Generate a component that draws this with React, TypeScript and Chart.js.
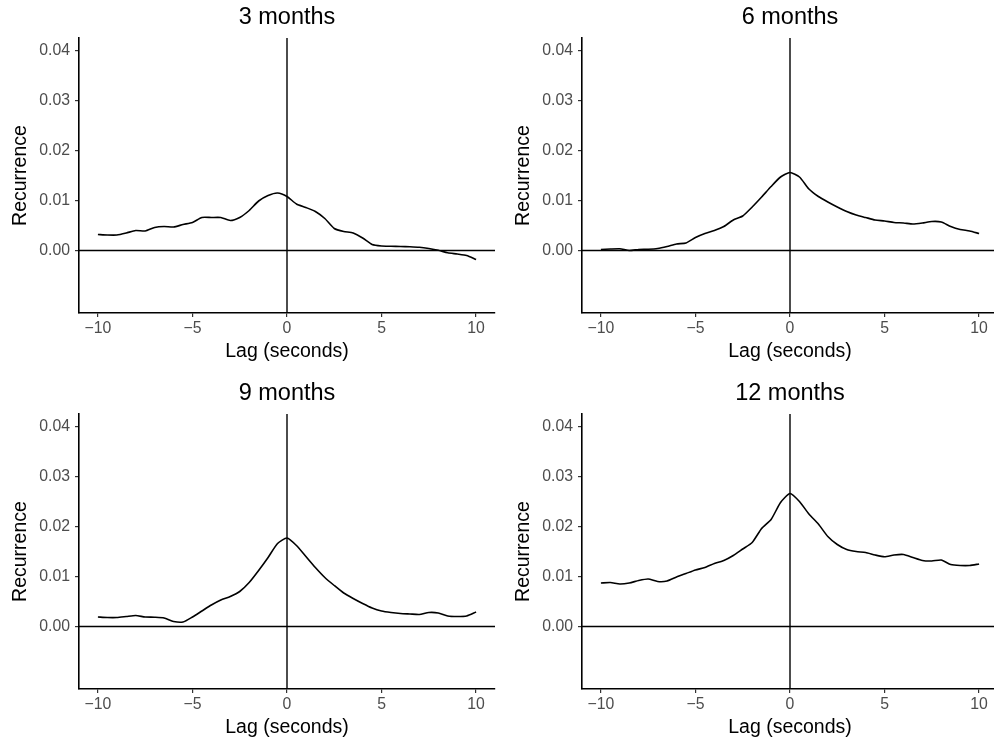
import React, { useEffect, useRef } from "react";
import { Chart, registerables } from "chart.js";

Chart.register(...registerables);

// Lag (seconds) grid
const lags = [
  -10, -9.5, -9, -8.5, -8, -7.5, -7, -6.5, -6, -5.5, -5, -4.5, -4, -3.5, -3, -2.5, -2, -1.5, -1, -0.5,
  0, 0.5, 1, 1.5, 2, 2.5, 3, 3.5, 4, 4.5, 5, 5.5, 6, 6.5, 7, 7.5, 8, 8.5, 9, 9.5, 10,
];

const months3 = [
  0.0032, 0.0031, 0.0031, 0.0035, 0.004, 0.0039, 0.0046, 0.0048, 0.0047, 0.0052, 0.0056, 0.0066, 0.0066, 0.0066,
  0.006, 0.0066, 0.008, 0.0099, 0.011, 0.0115, 0.0108, 0.0093, 0.0086, 0.0078, 0.0064, 0.0044, 0.0038, 0.0035,
  0.0025, 0.0012, 0.0009, 0.00085, 0.0008, 0.00075, 0.00065, 0.0004, 0.00005, -0.00045, -0.0007, -0.001, -0.0018,
];

const months6 = [
  0.0002, 0.0003, 0.00035, 0.0, 0.0002, 0.00025, 0.0004, 0.0008, 0.0013, 0.0015, 0.0026, 0.0034, 0.004, 0.0048,
  0.0061, 0.0069, 0.0087, 0.0107, 0.0128, 0.0147, 0.0156, 0.0147, 0.0123, 0.0108, 0.0097, 0.0087, 0.0078, 0.0071,
  0.0066, 0.0061, 0.0059, 0.0056, 0.0055, 0.0053, 0.0055, 0.0058, 0.0057, 0.0048, 0.0042, 0.0039, 0.0034,
];

const months9 = [
  0.0019, 0.0018, 0.0018, 0.002, 0.0022, 0.0019, 0.00185, 0.0017, 0.001, 0.0009, 0.0019, 0.0031, 0.0043, 0.0053,
  0.006, 0.007, 0.0088, 0.0112, 0.0138, 0.0166, 0.0177, 0.0162, 0.014, 0.0118, 0.0098, 0.0082, 0.0067, 0.0056,
  0.0046, 0.0037, 0.0031, 0.0028, 0.0026, 0.0025, 0.0024, 0.0028, 0.0027, 0.0021, 0.002, 0.0021, 0.0029,
];

const months12 = [
  0.0087, 0.0088, 0.0085, 0.0087, 0.0092, 0.0095, 0.009, 0.0091, 0.0099, 0.0106, 0.0113, 0.0118, 0.0126, 0.0132,
  0.0142, 0.0155, 0.0168, 0.0196, 0.0214, 0.0248, 0.0266, 0.025, 0.0225, 0.0205, 0.018, 0.0164, 0.0154, 0.015,
  0.0148, 0.0143, 0.01395, 0.0143, 0.0144, 0.0138, 0.0132, 0.0131, 0.0133, 0.0124, 0.0122, 0.0122, 0.0125,
];

const panelTitles = ["3 months", "6 months", "9 months", "12 months"];
const xTicks = [-10, -5, 0, 5, 10];
const yTicks = [0, 0.01, 0.02, 0.03, 0.04];
const xRange = [-11, 11];
const yRange = [-0.0125, 0.0425];
const xTitle = "Lag (seconds)";
const yTitle = "Recurrence";

const FONT = "'Liberation Sans', Arial, sans-serif";

function Panel({ title, values, left, top }: { title: string; values: number[]; left: number; top: number }) {
  const ref = useRef<HTMLCanvasElement>(null);
  useEffect(() => {
    const chart = new Chart(ref.current as HTMLCanvasElement, {
      type: "line",
      data: {
        datasets: [
          {
            data: [
              { x: xRange[0], y: 0 },
              { x: xRange[1], y: 0 },
            ],
            borderColor: "#000",
            borderWidth: 1.4,
            pointRadius: 0,
          },
          {
            data: [
              { x: 0, y: yRange[0] },
              { x: 0, y: yRange[1] },
            ],
            borderColor: "#000",
            borderWidth: 1.4,
            pointRadius: 0,
          },
          {
            data: lags.map((x, i) => ({ x, y: values[i] })),
            borderColor: "#000",
            borderWidth: 1.6,
            pointRadius: 0,
            tension: 0.2,
          },
        ],
      },
      options: {
        responsive: false,
        animation: false,
        events: [],
        layout: { padding: { left: 0, top: 0, right: 2, bottom: 0 } },
        plugins: {
          legend: { display: false },
          tooltip: { enabled: false },
          title: {
            display: true,
            text: title,
            fullSize: false,
            color: "#000",
            font: { family: FONT, size: 23.5, weight: "normal" },
            padding: { top: 3.1, bottom: 6.7 },
          },
        },
        scales: {
          x: {
            type: "linear",
            min: xRange[0],
            max: xRange[1],
            afterBuildTicks: (axis: any) => {
              axis.ticks = xTicks.map((v) => ({ value: v }));
            },
            afterFit: (scale: any) => {
              scale.height = 59;
            },
            ticks: {
              autoSkip: false,
              maxRotation: 0,
              color: "#4D4D4D",
              padding: 2.5,
              font: { family: FONT, size: 15.8 },
              callback: (v: any) => String(v).replace("-", "\u2212"),
            },
            grid: {
              display: true,
              drawOnChartArea: false,
              drawTicks: true,
              tickLength: 4,
              color: "#333",
              lineWidth: 1.2,
            },
            border: { display: true, color: "#000", width: 1.6 },
            title: {
              display: true,
              text: xTitle,
              color: "#000",
              font: { family: FONT, size: 19.5 },
              padding: { top: 0, bottom: 8.3 },
            },
          },
          y: {
            type: "linear",
            min: yRange[0],
            max: yRange[1],
            afterBuildTicks: (axis: any) => {
              axis.ticks = yTicks.map((v) => ({ value: v }));
            },
            afterFit: (scale: any) => {
              scale.width = 79;
            },
            ticks: {
              autoSkip: false,
              color: "#4D4D4D",
              padding: 5,
              font: { family: FONT, size: 15.8 },
              callback: (v: any) => Number(v).toFixed(2),
            },
            grid: {
              display: true,
              drawOnChartArea: false,
              drawTicks: true,
              tickLength: 4,
              color: "#333",
              lineWidth: 1.2,
            },
            border: { display: true, color: "#000", width: 1.6 },
            title: {
              display: true,
              text: yTitle,
              color: "#000",
              font: { family: FONT, size: 19.5 },
              padding: { top: 8.6, bottom: 0 },
            },
          },
        },
      } as any,
    });
    return () => chart.destroy();
  }, [title, values]);
  return (
    <canvas
      ref={ref}
      width={497}
      height={372}
      style={{ position: "absolute", left, top, width: 497, height: 372 }}
    />
  );
}

export default function App() {
  return (
    <div
      style={{
        position: "absolute",
        left: 0,
        top: 0,
        width: 994,
        height: 744,
        overflow: "hidden",
        background: "#fff",
      }}
    >
      <Panel title={panelTitles[0]} values={months3} left={0} top={0} />
      <Panel title={panelTitles[1]} values={months6} left={503} top={0} />
      <Panel title={panelTitles[2]} values={months9} left={0} top={376} />
      <Panel title={panelTitles[3]} values={months12} left={503} top={376} />
    </div>
  );
}
